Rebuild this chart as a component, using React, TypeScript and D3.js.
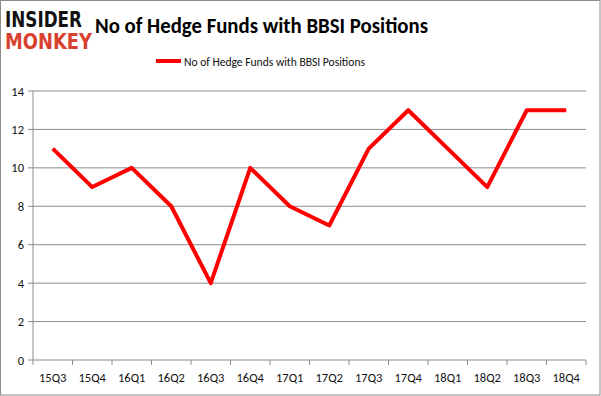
import * as d3 from "d3";

const WIDTH = 601;
const HEIGHT = 396;
const MARGIN = { top: 91, right: 15, bottom: 36, left: 33 };

const quarters = [
  "15Q3", "15Q4", "16Q1", "16Q2", "16Q3", "16Q4", "17Q1",
  "17Q2", "17Q3", "17Q4", "18Q1", "18Q2", "18Q3", "18Q4",
];
const hedgeFunds = [11, 9, 10, 8, 4, 10, 8, 7, 11, 13, 11, 9, 13, 13];
const yTicks = [0, 2, 4, 6, 8, 10, 12, 14];

const SERIES_NAME = "No of Hedge Funds with BBSI Positions";
const FONT = "Calibri, Carlito, 'Open Sans', sans-serif";

export default function App() {
  const boundsWidth = WIDTH - MARGIN.left - MARGIN.right;
  const boundsHeight = HEIGHT - MARGIN.top - MARGIN.bottom;

  const xScale = d3.scaleBand().domain(quarters).range([0, boundsWidth]);
  const yScale = d3.scaleLinear().domain([0, 14]).range([boundsHeight, 0]);

  const line = d3
    .line<number>()
    .x((_, i) => (xScale(quarters[i]) || 0) + xScale.bandwidth() / 2)
    .y((d) => yScale(d));

  // category boundaries for the tick marks under the axis
  const boundaries = quarters.map((q) => xScale(q) || 0).concat(boundsWidth);

  return (
    <svg
      width={WIDTH}
      height={HEIGHT}
      style={{ position: "absolute", left: 0, top: 0 }}
    >
      <rect x={0} y={0} width={WIDTH} height={HEIGHT} fill="white" />
      <rect
        x={0.5}
        y={0.5}
        width={WIDTH - 1.5}
        height={HEIGHT - 1.5}
        fill="none"
        stroke="#8c8c8c"
        strokeWidth={1}
      />

      {/* logo */}
      <text
        x={5}
        y={27}
        fontFamily="'DejaVu Sans', sans-serif"
        fontWeight="bold"
        fontSize={21}
        fill="#111"
        textLength={77}
        lengthAdjust="spacingAndGlyphs"
      >
        INSIDER
      </text>
      <text
        x={5}
        y={49}
        fontFamily="'DejaVu Sans', sans-serif"
        fontWeight="bold"
        fontSize={21}
        fill="#d9412f"
        textLength={87}
        lengthAdjust="spacingAndGlyphs"
      >
        MONKEY
      </text>

      {/* title */}
      <text
        x={95}
        y={33}
        fontFamily={FONT}
        fontWeight="bold"
        fontSize={23}
        fill="#000"
        textLength={333}
        lengthAdjust="spacingAndGlyphs"
      >
        {SERIES_NAME}
      </text>

      {/* legend */}
      <line x1={156} x2={181} y1={61} y2={61} stroke="#ff0000" strokeWidth={4} />
      <text
        x={184}
        y={65.5}
        fontFamily={FONT}
        fontSize={12.5}
        fill="#111"
        textLength={181}
        lengthAdjust="spacingAndGlyphs"
      >
        {SERIES_NAME}
      </text>

      <g transform={`translate(${MARGIN.left},${MARGIN.top})`}>
        {yTicks.map((t) => (
          <g key={t}>
            <line
              x1={-5}
              x2={boundsWidth}
              y1={yScale(t)}
              y2={yScale(t)}
              stroke="#8c8c8c"
              strokeWidth={1}
            />
            <text
              x={-9}
              y={yScale(t) + 4.5}
              textAnchor="end"
              fontFamily={FONT}
              fontSize={12.5}
              fill="#111"
            >
              {t}
            </text>
          </g>
        ))}
        <line
          x1={0}
          x2={0}
          y1={0}
          y2={boundsHeight}
          stroke="#8c8c8c"
          strokeWidth={1}
        />
        {boundaries.map((bx, i) => (
          <line
            key={i}
            x1={bx}
            x2={bx}
            y1={boundsHeight}
            y2={boundsHeight + 5}
            stroke="#8c8c8c"
            strokeWidth={1}
          />
        ))}
        {quarters.map((q) => (
          <text
            key={q}
            x={(xScale(q) || 0) + xScale.bandwidth() / 2}
            y={boundsHeight + 22}
            textAnchor="middle"
            fontFamily={FONT}
            fontSize={12.5}
            fill="#111"
          >
            {q}
          </text>
        ))}
        <path
          d={line(hedgeFunds) || ""}
          fill="none"
          stroke="#ff0000"
          strokeWidth={4}
          strokeLinejoin="round"
        />
      </g>
    </svg>
  );
}
